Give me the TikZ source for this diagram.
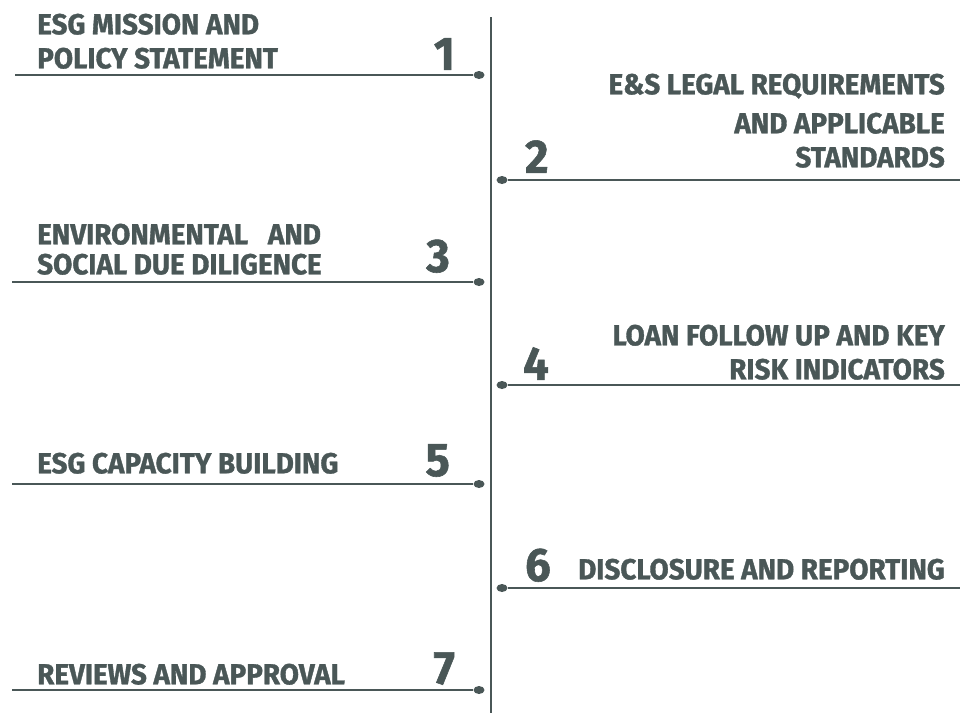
\documentclass[tikz,border=0pt]{standalone}
\usepackage{fontspec}
\newfontfamily\stepfont{Fira Sans}[FakeStretch=0.96, FakeBold=1.2]
\usetikzlibrary{positioning}
\usetikzlibrary{shapes.geometric}

\definecolor{slate}{HTML}{4A5757}

\tikzset{
  steptext/.style={font=\stepfont\bfseries\fontsize{29}{34}\selectfont, text=slate, inner sep=0pt},
  stepnum/.style={font=\stepfont\bfseries\fontsize{47}{47}\selectfont, text=slate, inner sep=0pt},
  dotend/.style={ellipse, fill=slate, minimum width=11pt, minimum height=8pt, inner sep=0pt},
  rule/.style={draw=slate, line width=2pt}
}

\begin{document}
\begin{tikzpicture}[x=1pt, y=-1pt]
  \useasboundingbox (0,0) rectangle (960,713);

  % spine
  \coordinate (spine top) at (491,17);
  \coordinate (spine bottom) at (491,713);
  \draw[draw=slate, line width=2.5pt] (spine top) -- (spine bottom);

  % left side
  \node[dotend] (dot1) at (479,75) {};
  \coordinate (end1) at (15,75);
  \node[steptext, anchor=south west, align=left] (text1) at (37,69) {ESG MISSION AND\\POLICY STATEMENT};
  \node[stepnum, anchor=south east] (num1) at (455,70) {1};

  \node[dotend] (dot3) at (479,282) {};
  \coordinate (end3) at (12,282);
  \node[steptext, anchor=south west, align=left] (text3) at (37,275) {ENVIRONMENTAL\ \ \ AND\\[-4pt]SOCIAL DUE DILIGENCE};
  \node[stepnum, anchor=south east] (num3) at (450,273) {3};

  \node[dotend] (dot5) at (479,484) {};
  \coordinate (end5) at (12,484);
  \node[steptext, anchor=south west, align=left] (text5) at (37,474) {ESG CAPACITY BUILDING};
  \node[stepnum, anchor=south east] (num5) at (450,477) {5};

  \node[dotend] (dot7) at (479,690) {};
  \coordinate (end7) at (12,690);
  \node[steptext, anchor=south west, align=left] (text7) at (37,685) {REVIEWS AND APPROVAL};
  \node[stepnum, anchor=south east] (num7) at (455,685) {7};

  % right side
  \node[dotend] (dot2) at (502,180) {};
  \coordinate (end2) at (960,180);
  \node[steptext, anchor=south east, align=right] (text2) at (945,168) {E\&S LEGAL REQUIREMENTS\\[5pt]AND APPLICABLE\\STANDARDS};
  \node[stepnum, anchor=south west] (num2) at (525,173) {2};

  \node[dotend] (dot4) at (502,385) {};
  \coordinate (end4) at (960,385);
  \node[steptext, anchor=south east, align=right] (text4) at (945,380) {LOAN FOLLOW UP AND KEY\\RISK INDICATORS};
  \node[stepnum, anchor=south west] (num4) at (523,380) {4};

  \node[dotend] (dot6) at (502,588) {};
  \coordinate (end6) at (960,588);
  \node[steptext, anchor=south east, align=right] (text6) at (945,580) {DISCLOSURE AND REPORTING};
  \node[stepnum, anchor=south west] (num6) at (525,582) {6};

  \foreach \i in {1,...,7}
    \draw[rule] (end\i) -- (dot\i);
\end{tikzpicture}
\end{document}
